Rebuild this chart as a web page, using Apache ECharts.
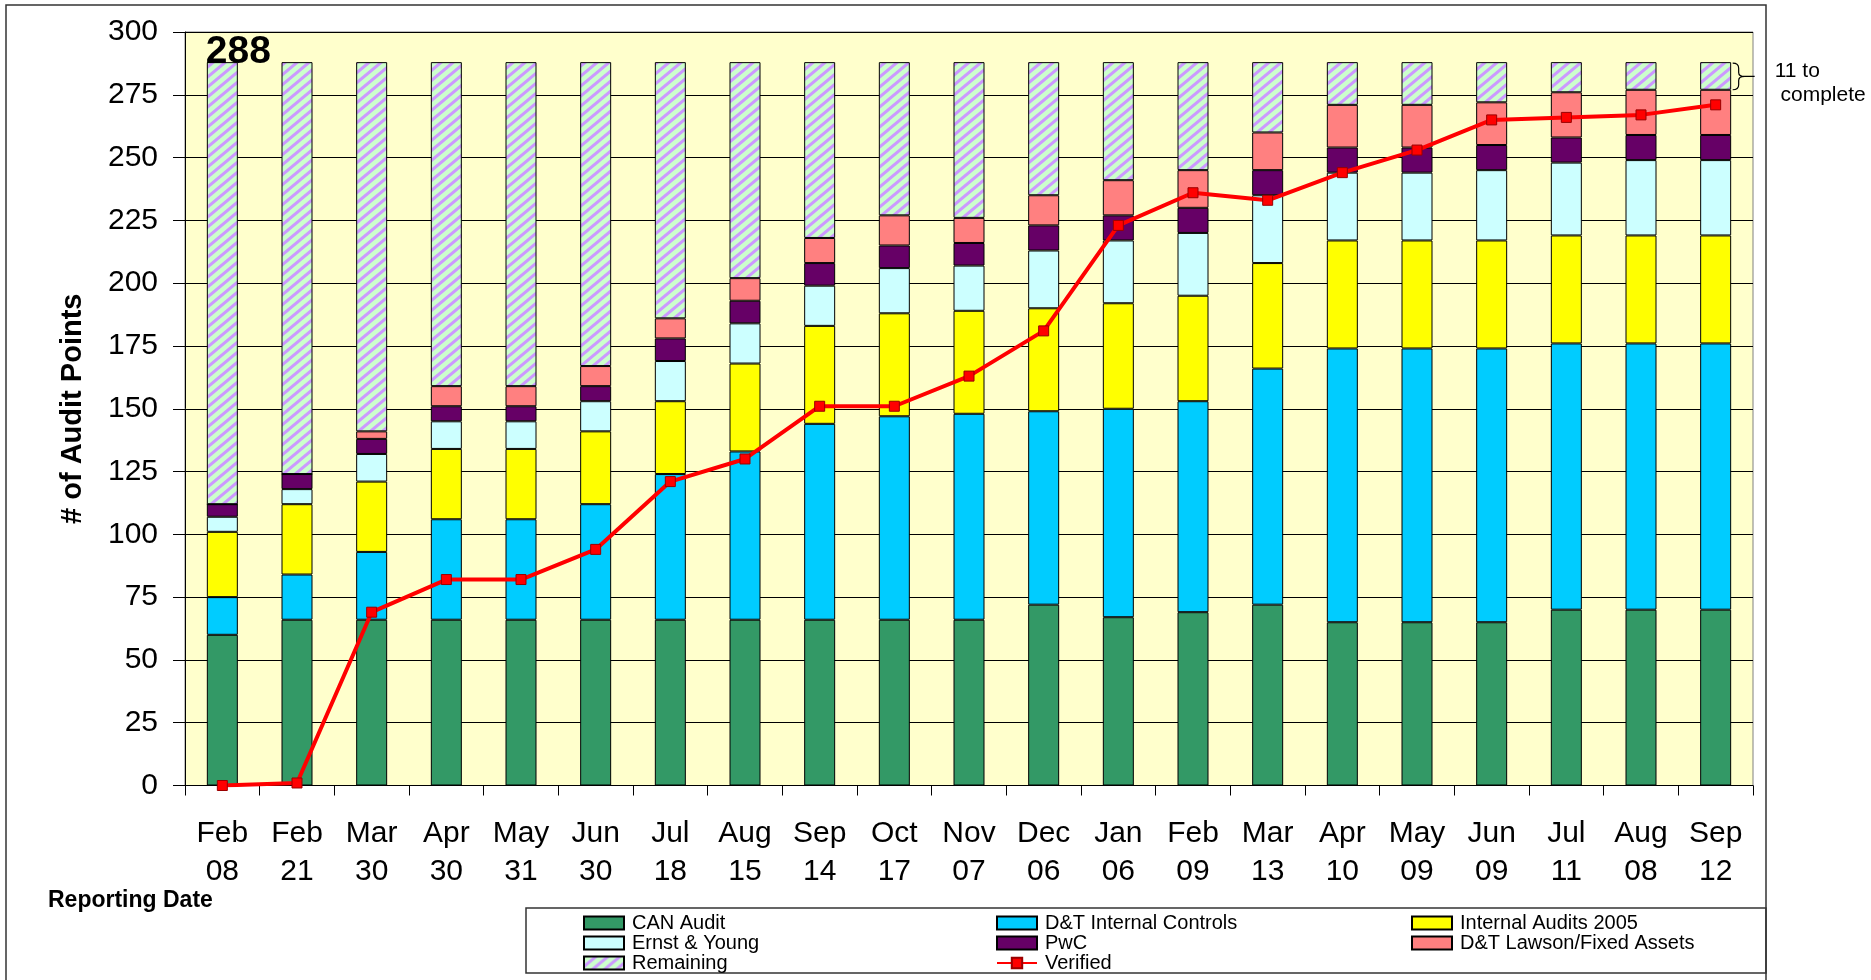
<!DOCTYPE html>
<html><head><meta charset="utf-8">
<script src="https://cdn.jsdelivr.net/npm/echarts@6/dist/echarts.min.js"></script>
<style>html,body{margin:0;padding:0;background:#fff}#c{width:1871px;height:980px}</style>
</head><body><div id="c"></div>
<script>
const months = ['Feb','Feb','Mar','Apr','May','Jun','Jul','Aug','Sep','Oct','Nov','Dec','Jan','Feb','Mar','Apr','May','Jun','Jul','Aug','Sep'];
const days = ['08','21','30','30','31','30','18','15','14','17','07','06','06','09','13','10','09','09','11','08','12'];
const canAudit   = [60,66,66,66,66,66,66,66,66,66,66,72,67,69,72,65,65,65,70,70,70];
const dtInternal = [15,18,27,40,40,46,58,67,78,81,82,77,83,84,94,109,109,109,106,106,106];
const ia2005     = [26,28,28,28,28,29,29,35,39,41,41,41,42,42,42,43,43,43,43,43,43];
const ernstYoung = [6,6,11,11,11,12,16,16,16,18,18,23,25,25,27,27,27,28,29,30,30];
const pwc        = [5,6,6,6,6,6,9,9,9,9,9,10,10,10,10,10,10,10,10,10,10];
const lawson     = [0,0,3,8,8,8,8,9,10,12,10,12,14,15,15,17,17,17,18,18,18];
const remaining  = [176,164,147,129,129,121,102,86,70,61,62,53,47,43,28,17,17,16,12,11,11];
const verified   = [0,1,69,82,82,94,121,130,151,151,163,181,223,236,233,244,253,265,266,267,271];
const yTicks = {min:0, max:300, interval:25};
const totalPoints = 288;
const braceData = [[20, 277, 288]];
const braceText = ['11 to', ' complete'];

const FONT = "'Liberation Sans', Arial, sans-serif";
const categories = months.map((m,i)=>m+'\n'+days[i]);

function hatch(){
  const W=12,H=10; const c=document.createElement('canvas'); c.width=W; c.height=H;
  const g=c.getContext('2d'); g.fillStyle='#CCFFCC'; g.fillRect(0,0,W,H);
  g.strokeStyle='#CC99FF'; g.lineWidth=3;
  for(let k=-1;k<=1;k++){
    const x1=k*W-W, x2=k*W+2*W;
    g.beginPath(); g.moveTo(x1, H-(H/W)*(x1-k*W)); g.lineTo(x2, H-(H/W)*(x2-k*W)); g.stroke();
  }
  return c;
}
const hatchColor = {image: hatch(), repeat:'repeat'};

function barSeries(name, data, color){
  return {name, type:'bar', stack:'a', data, barWidth:31,
    itemStyle:{color, borderColor:'#000', borderWidth:1}};
}

const chart = echarts.init(document.getElementById('c'), null, {renderer:'canvas'});
const legendText = {fontSize:20, lineHeight:20, color:'#000', fontFamily:FONT, padding:[0,0,0,3]};
const legendBase = {orient:'vertical', top:913, padding:0, itemGap:0, itemWidth:40, itemHeight:13, textStyle:legendText};
chart.setOption({
  animation:false,
  backgroundColor:'#fff',
  textStyle:{fontFamily:FONT},
  grid:{left:185, right:118, top:32, bottom:194.5, show:true, backgroundColor:'#FFFFCC', borderColor:'#808080', borderWidth:1},
  legend:[
    Object.assign({}, legendBase, {left:583,
     data:[{name:'CAN Audit',icon:'rect'},{name:'Ernst & Young',icon:'rect'},{name:'Remaining',icon:'rect'}]}),
    Object.assign({}, legendBase, {left:996,
     data:[{name:'D&T Internal Controls',icon:'rect'},{name:'PwC',icon:'rect'},{name:'Verified'}]}),
    Object.assign({}, legendBase, {left:1411,
     data:[{name:'Internal Audits 2005',icon:'rect'},{name:'D&T Lawson/Fixed Assets',icon:'rect'}]})
  ],
  xAxis:{type:'category', data:categories,
    axisLine:{show:true, lineStyle:{color:'#000', width:1}},
    axisTick:{show:true, length:10, lineStyle:{color:'#000'}},
    axisLabel:{fontSize:30, lineHeight:38, color:'#000', margin:29, interval:0, fontFamily:FONT}},
  yAxis:{type:'value', min:yTicks.min, max:yTicks.max, interval:yTicks.interval,
    name:'# of Audit Points', nameLocation:'middle', nameGap:98,
    nameTextStyle:{fontSize:29, fontWeight:'bold', color:'#000', fontFamily:FONT},
    axisLine:{show:true, lineStyle:{color:'#000'}},
    axisTick:{show:true, length:12, lineStyle:{color:'#000'}},
    axisLabel:{fontSize:30, color:'#000', margin:27, fontFamily:FONT},
    splitLine:{show:true, lineStyle:{color:'#000', width:1}}},
  graphic:[
    {type:'rect', shape:{x:6,y:5,width:1760,height:1000}, style:{fill:'none', stroke:'#333', lineWidth:1.5}, silent:true},
    {type:'rect', shape:{x:526,y:908,width:1240,height:65}, style:{fill:'none', stroke:'#333', lineWidth:1.5}, silent:true},
    {type:'text', left:48, top:889, style:{text:'Reporting Date', font:"bold 23px 'Liberation Sans', Arial, sans-serif", fill:'#000'}}
  ],
  series:[
    barSeries('CAN Audit', canAudit, '#339966'),
    barSeries('D&T Internal Controls', dtInternal, '#00CCFF'),
    barSeries('Internal Audits 2005', ia2005, '#FFFF00'),
    barSeries('Ernst & Young', ernstYoung, '#CCFFFF'),
    barSeries('PwC', pwc, '#660066'),
    barSeries('D&T Lawson/Fixed Assets', lawson, '#FF8080'),
    {name:'Remaining', type:'bar', stack:'a', barWidth:31,
     itemStyle:{color:hatchColor, borderColor:'#000', borderWidth:1},
     data: remaining.map((v,i)=> i===0 ? {value:v, label:{show:true, position:[-1,-10], align:'left', verticalAlign:'middle',
        formatter:String(totalPoints), fontSize:39, fontWeight:'bold', color:'#000', fontFamily:FONT}} : v)},
    {name:'Verified', type:'line', data:verified, z:10,
     lineStyle:{color:'#FF0000', width:4},
     symbol:'rect', symbolSize:10,
     itemStyle:{color:'#FF0000', borderColor:'#990000', borderWidth:1}},
    {name:'brace', type:'custom', data:braceData, clip:false, z:10,
     renderItem:function(params, api){
       const t = api.coord([api.value(0), api.value(2)]);
       const b = api.coord([api.value(0), api.value(1)]);
       const x0 = t[0] + 17, ty=t[1]+1, by=b[1], my=(ty+by)/2;
       const path = `M${x0} ${ty} Q${x0+6} ${ty} ${x0+6} ${ty+5} L${x0+6} ${my-4} Q${x0+6} ${my} ${x0+12} ${my} Q${x0+6} ${my} ${x0+6} ${my+4} L${x0+6} ${by-5} Q${x0+6} ${by} ${x0} ${by} M${x0+12} ${my} L${x0+22} ${my}`;
       return {type:'group', children:[
         {type:'path', shape:{pathData:path}, style:{fill:'none', stroke:'#000', lineWidth:1.2}},
         {type:'text', x:x0+42, y:ty+8, style:{text:braceText[0], fontSize:21, fontFamily:FONT, fill:'#000', verticalAlign:'middle'}},
         {type:'text', x:x0+42, y:ty+32, style:{text:braceText[1], fontSize:21, fontFamily:FONT, fill:'#000', verticalAlign:'middle'}}
       ]};
     }}
  ]
});
</script></body></html>
